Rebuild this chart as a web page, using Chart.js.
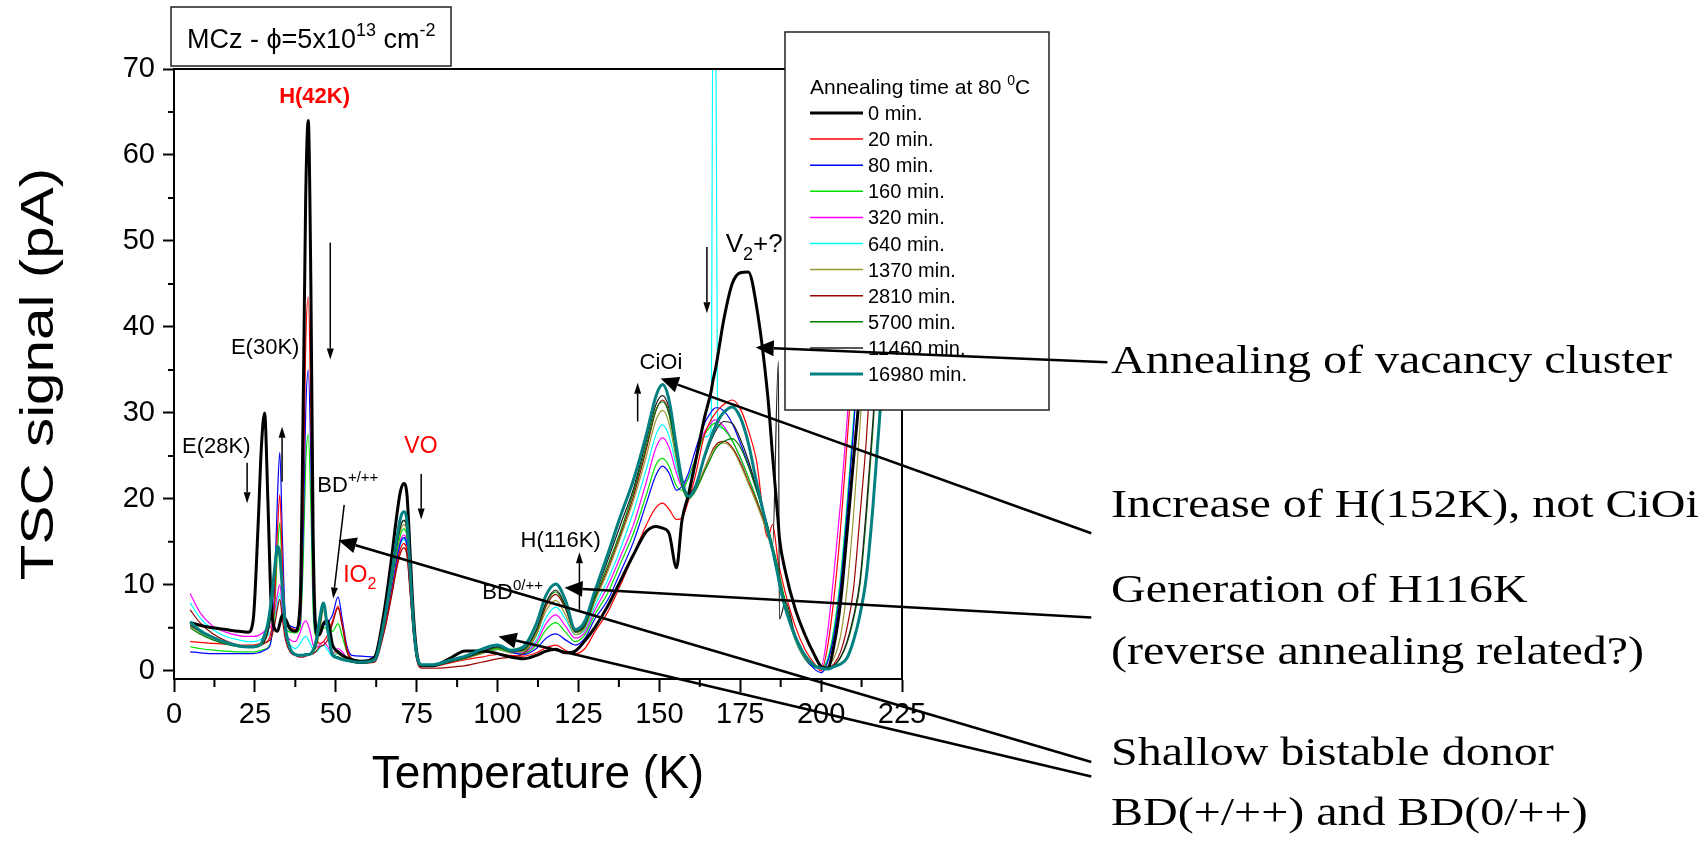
<!DOCTYPE html>
<html>
<head>
<meta charset="utf-8">
<title>TSC spectra - MCz annealing at 80 °C</title>
<script src="https://cdn.jsdelivr.net/npm/chart.js"></script>
<style>
  html, body { margin: 0; padding: 0; background: #fff; overflow: hidden; }
  canvas { display: block; }
</style>
</head>
<body>
<canvas id="tsc" width="1707" height="843"></canvas>
<script>
// temperature grid (K), shared by every spectrum
const temps = [
  5, 8, 12, 16, 20, 23, 24.5, 26, 27, 28,
  29, 30, 31, 32, 32.7, 33.5, 34.5, 36, 37.5, 39,
  40, 40.7, 41.5, 42.3, 43, 44, 45, 46.2, 47.5, 49,
  50.7, 52, 53.5, 55, 58, 62, 65, 67, 69, 70,
  71, 72, 73, 74, 75, 76.5, 80, 85, 90, 95,
  100, 104, 108, 112, 115, 118, 121, 124, 127, 130,
  134, 138, 142, 146, 149, 151, 153, 155.3, 157, 159,
  161, 164, 166, 166.6, 167.4, 168, 170, 172.5, 175, 177.5,
  180, 183.5, 185, 186.8, 187.1, 189, 192, 195, 198, 200,
  202, 204, 206, 208, 210, 212, 214, 216, 218, 220, 224
];

// TSC signal (pA) after each annealing step
const tsc0 = [
  5.6, 5.3, 5.0, 4.8, 4.6, 4.5, 6.0, 17, 26, 30,
  20, 8, 5.0, 4.6, 5.5, 6.5, 6.0, 4.8, 4.6, 8,
  33, 55, 64, 45, 16, 4.5, 4.2, 5.5, 5.8, 3.0,
  2.2, 1.8, 1.5, 1.3, 1.1, 1.6, 7.0, 12.4, 18.5, 20.9,
  21.8, 20.5, 13.5, 6.5, 2.2, 0.6, 0.6, 1.4, 2.3, 2.3,
  2.0, 1.6, 1.4, 1.8, 2.3, 2.5, 2.1, 2.3, 3.5, 5.0,
  7.5, 10.5, 13.5, 16.2, 16.8, 16.6, 16.0, 12.0, 17.5, 20.5,
  24, 29.5, 32.5, 33.8, 35.2, 36.5, 41, 45, 46.3, 46.4,
  42.5, 32, 25, 17, 15.5, 11.5, 7.2, 4.2, 1.8, 0.5,
  0.3, 3, 8, 16, 24.5, 33, 45, 58, 72, 84, 95
];
const tsc20 = [
  3.4, 3.3, 3.2, 3.1, 3.0, 3.0, 3.0, 3.1, 3.2, 3.3,
  3.5, 4.5, 7.5, 16.5, 20.5, 12.5, 5.5, 5.0, 4.8, 6,
  21, 38, 43.5, 30, 11, 4.0, 3.2, 3.4, 4.2, 5.8,
  7.5, 5.5, 2.5, 1.4, 1.1, 1.3, 4.7, 8.4, 12.6, 14.2,
  14.8, 13.9, 9.2, 4.4, 1.5, 0.5, 0.5, 0.9, 1.3, 1.6,
  1.9, 1.8, 1.7, 2.1, 2.7, 3.0, 2.4, 2.0, 2.6, 4.5,
  6.8, 10.0, 13.5, 17.0, 19.0, 19.5, 18.8, 17.6, 17.8, 19.8,
  22.5, 27.5, 29.2, 29.6, 30, 30.3, 31, 31.5, 30.5, 28,
  24.5, 15.5, 17.0, 12.5, 12, 9, 5.2, 2.5, 0.8, 0.0,
  2.8, 8.6, 16.5, 26.5, 37, 50, 65, 78, 86, 92, 95
];
const tsc80 = [
  2.2, 2.1, 2.0, 2.0, 2.0, 2.0, 2.0, 2.1, 2.2, 2.4,
  2.6, 3.5, 9, 20.5, 25.4, 15.5, 6, 5.2, 5.0, 5.5,
  17, 30, 35, 24.5, 9, 4.2, 4.8, 5.3, 5.6, 6.5,
  8.6, 6.0, 2.8, 1.8, 1.7, 1.6, 5.0, 8.8, 13.2, 14.9,
  15.5, 14.6, 9.6, 4.7, 1.6, 0.6, 0.6, 1.0, 1.5, 2.2,
  2.8, 2.2, 1.9, 2.6, 3.8, 4.3, 3.6, 3.0, 3.8, 6.0,
  8.2, 11.5, 15.0, 19.5, 22.8, 23.8, 23.0, 21.0, 21.5, 23,
  25.5, 28.8, 30.1, 30.4, 30.6, 30.6, 30.2, 28.8, 26.5, 24,
  21.2, 16.5, 14.2, 11, 10.6, 7.5, 3.8, 1.5, 0.2, -0.2,
  1.0, 4.2, 9.8, 18.2, 28, 39, 52, 66, 78, 88, 95
];
const tsc160 = [
  2.8, 2.6, 2.4, 2.3, 2.2, 2.2, 2.2, 2.3, 2.4, 2.5,
  2.7, 3.5, 6.5, 14, 17.2, 10.5, 5, 4.5, 4.4, 5,
  13.5, 24, 27.5, 19, 7, 4.0, 4.4, 5.0, 5.0, 4.6,
  5.5, 4.0, 2.2, 1.4, 1.2, 1.3, 5.3, 9.4, 14.0, 15.8,
  16.5, 15.5, 10.2, 5.0, 1.7, 0.6, 0.6, 1.0, 1.5, 2.0,
  2.5, 2.1, 2.0, 3.0, 4.8, 5.6, 4.5, 3.4, 4.2, 6.5,
  9, 12.5, 16, 20.5, 24, 24.7, 23.8, 21.5, 21, 22.5,
  24.5, 27.5, 28.5, 28.7, 28.8, 28.7, 28.1, 26.8, 24.8, 22.5,
  20, 16, 13.8, 10.8, 10.3, 7.3, 3.6, 1.4, 0.4, 0.3,
  1.2, 4.8, 10.5, 19, 28.5, 40, 53, 67, 79, 88, 95
];
const tsc320 = [
  9.0, 6.8, 5.2, 4.5, 4.1, 4.0, 4.0, 4.1, 4.3, 4.6,
  4.8, 5.2, 6.5, 9, 10, 7.5, 4.5, 3.6, 3.4, 4.5,
  5.5, 5.8, 5.3, 4.2, 3.0, 2.7, 3.0, 3.4, 2.8, 2.0,
  2.6, 2.2, 1.5, 1.2, 1.1, 1.3, 5.1, 9.0, 13.4, 15.2,
  15.8, 14.9, 9.8, 4.7, 1.6, 0.6, 0.6, 1.0, 1.5, 2.0,
  2.5, 2.1, 2.1, 3.3, 5.5, 6.5, 5.2, 3.8, 4.5, 7.0,
  9.8, 13.3, 17, 22, 26, 27.1, 26, 23, 21.5, 22.5,
  24.5, 27.8, 28.8, 29.1, 29.2, 29.1, 28.4, 26.8, 24.8, 22.5,
  20, 16, 13.8, 10.8, 10.3, 7.3, 3.6, 1.4, 0.5, 0.5,
  4.5, 11.5, 19.5, 29, 40, 53, 68, 80, 88, 92, 95
];
const tsc640 = [
  7.9, 6.2, 4.8, 4.0, 3.6, 3.4, 3.4, 3.5, 3.7, 4.0,
  4.2, 4.6, 6, 8, 9, 6.8, 4, 3.0, 2.6, 3.2,
  3.8, 4.0, 3.6, 3.0, 2.4, 2.2, 2.6, 3.0, 2.4, 1.7,
  2.0, 1.8, 1.3, 1.1, 1.0, 1.2, 4.9, 8.7, 13.0, 14.7,
  15.3, 14.4, 9.5, 4.6, 1.5, 0.6, 0.6, 1.0, 1.5, 2.1,
  2.6, 2.2, 2.2, 3.6, 6.2, 7.4, 6.0, 4.2, 4.8, 7.5,
  10.5, 14.2, 18.5, 23.5, 27.5, 28.6, 27.3, 23.8, 21.8, 22.3,
  24.2, 27.2, 28, 80, 80, 28.5, 28.2, 26.8, 24.8, 22.5,
  20, 16, 13.8, 10.8, 10.3, 7.3, 3.6, 1.4, 0.4, 0.4,
  1.4, 5, 11, 19.5, 29, 40, 53, 67, 79, 88, 95
];
const tsc1370 = [
  5.2, 4.5, 3.8, 3.3, 3.0, 2.8, 2.8, 2.9, 3.1, 3.5,
  4.5, 6.5, 10.5, 13.5, 13.2, 9.2, 4.6, 2.4, 2.0, 1.8,
  1.8, 1.9, 2.0, 2.0, 2.2, 2.8, 4.5, 7.0, 4.5, 2.2,
  2.0, 1.6, 1.3, 1.1, 1.0, 1.3, 5.4, 9.7, 14.5, 16.3,
  17, 16, 10.5, 5.1, 1.7, 0.6, 0.6, 1.0, 1.4, 2.0,
  2.6, 2.2, 2.3, 4.2, 7.0, 8.2, 6.5, 4.2, 5.0, 8.0,
  11.5, 15.5, 19.8, 25, 29.2, 30.3, 28.8, 24.5, 21.5, 20.3,
  21, 23.5, 25.2, 25.6, 26, 26.3, 26.5, 25.8, 24, 21.8,
  19.5, 15.8, 13.8, 11, 10.5, 7.5, 3.8, 1.5, 0.5, 0.3,
  0.5, 1.5, 4, 9.5, 18, 28.5, 40, 53, 66, 78, 92
];
const tsc2810 = [
  7.1, 5.6, 4.3, 3.5, 3.0, 2.8, 2.8, 2.9, 3.0, 3.2,
  3.4, 3.8, 5.2, 7.3, 8.3, 6, 3.5, 2.1, 1.8, 1.6,
  1.6, 1.7, 1.8, 1.9, 2.0, 2.3, 2.8, 3.0, 3.6, 5.5,
  7.3, 5.2, 2.2, 1.2, 0.9, 1.0, 4.6, 8.2, 12.2, 13.7,
  14.3, 13.4, 8.9, 4.3, 1.3, 0.3, 0.3, 0.4, 0.6, 1.0,
  1.4, 1.6, 2.0, 4.2, 7.5, 8.9, 7.2, 4.5, 5.2, 8.2,
  11.8, 15.8, 20.3, 25.8, 30.3, 31.5, 30.0, 25.5, 22, 20.3,
  21, 23.5, 25.3, 25.8, 26.2, 26.5, 26.7, 26, 24.3, 22,
  19.8, 16, 14, 11.2, 10.7, 7.7, 4.0, 1.6, 0.5, 0.3,
  0.4, 0.8, 2.2, 5, 9.5, 18, 27, 39, 52, 65, 88
];
const tsc5700 = [
  5.0, 4.3, 3.6, 3.1, 2.8, 2.7, 2.7, 2.8, 3.0, 3.4,
  4.5, 6.8, 11, 14.5, 14.2, 9.8, 4.8, 2.5, 2.0, 1.8,
  1.8, 1.8, 1.9, 2.0, 2.2, 3.0, 5.0, 7.4, 4.6, 2.0,
  1.6, 1.4, 1.2, 1.0, 0.9, 1.2, 5.6, 10, 14.9, 16.8,
  17.5, 16.5, 10.9, 5.3, 1.8, 0.6, 0.6, 1.0, 1.5, 2.1,
  2.7, 2.3, 2.4, 4.6, 7.8, 9.2, 7.4, 4.5, 5.2, 8.4,
  12.2, 16.2, 20.8, 26.2, 30.4, 31.3, 29.8, 25, 21.5, 20,
  20.8, 23.2, 24.8, 25.3, 25.8, 26.1, 26.7, 27, 26, 23.8,
  21, 16.8, 14.6, 11.8, 11.2, 8, 4.2, 1.8, 0.6, 0.3,
  0.3, 0.6, 1.5, 3.2, 6, 10, 18, 28, 40, 53, 80
];
const tsc11460 = [
  5.3, 4.6, 3.9, 3.3, 2.9, 2.8, 2.8, 2.9, 3.1, 3.5,
  4.5, 6.6, 10.5, 13.8, 13.6, 9.5, 4.6, 2.4, 1.9, 1.8,
  1.8, 1.8, 1.9, 2.0, 2.3, 3.2, 5.2, 7.5, 4.8, 2.0,
  1.6, 1.4, 1.2, 1.0, 0.9, 1.2, 5.6, 10, 14.9, 16.8,
  17.5, 16.5, 10.9, 5.3, 1.8, 0.6, 0.6, 1.0, 1.5, 2.2,
  2.8, 2.3, 2.5, 4.8, 8.0, 9.4, 7.6, 4.6, 5.4, 8.7,
  12.8, 17, 21.2, 26.8, 31.0, 32, 30.5, 25.5, 22, 20.5,
  21.5, 24.8, 26.8, 27.3, 27.9, 28.3, 29, 28.8, 27, 24.5,
  21.3, 16.8, 14.5, 36, 6, 8, 4.1, 1.7, 0.5, 0.3,
  0.3, 0.6, 1.6, 3.4, 6.3, 10.5, 19, 29, 41, 54, 82
];
const tsc16980 = [
  5.7, 4.7, 3.9, 3.3, 2.9, 2.8, 2.8, 2.9, 3.2, 4.2,
  5.5, 8, 11.5, 14.5, 13.5, 9.5, 5, 2.5, 1.9, 1.8,
  1.8, 1.9, 1.9, 2.0, 2.4, 3.6, 6.0, 7.9, 4.8, 1.8,
  1.5, 1.3, 1.2, 1.1, 1.0, 1.3, 5.9, 10.5, 15.7, 17.8,
  18.5, 17.4, 11.5, 5.5, 1.9, 0.7, 0.7, 1.2, 1.7, 2.5,
  3.0, 2.4, 2.8, 5.5, 8.8, 10.1, 8.2, 4.8, 5.8, 9.2,
  13.5, 18.0, 22.2, 27.5, 32.0, 33.3, 31.5, 26.0, 22.2, 20.3,
  21.2, 25, 27.2, 27.8, 28.5, 29, 30.1, 30.7, 29.5, 26.5,
  22, 16.3, 14.1, 10.8, 10.2, 7.2, 4.0, 1.8, 0.6, 0.3,
  0.2, 0.5, 0.8, 1.5, 3.5, 6.5, 11, 19, 29, 40, 70
];

const annealTimes = ['0 min.', '20 min.', '80 min.', '160 min.', '320 min.', '640 min.',
  '1370 min.', '2810 min.', '5700 min.', '11460 min.', '16980 min.'];
const xTicks = [0, 25, 50, 75, 100, 125, 150, 175, 200, 225];
const yTicks = [0, 10, 20, 30, 40, 50, 60, 70];

const SANS = '"Liberation Sans", Arial, Helvetica, sans-serif';
const SERIF = '"Liberation Serif", "Times New Roman", serif';
Chart.defaults.font.family = SANS;
Chart.defaults.color = '#000';

const spectra = [tsc0, tsc20, tsc80, tsc160, tsc320, tsc640, tsc1370, tsc2810, tsc5700, tsc11460, tsc16980];
const lineStyles = [
  { color: '#000000', width: 3, order: 1 },
  { color: '#ff0000', width: 1.2, order: 5 },
  { color: '#0000ff', width: 1.2, order: 5 },
  { color: '#00e000', width: 1.2, order: 5 },
  { color: '#ff00ff', width: 1.2, order: 5 },
  { color: '#00ffff', width: 1.2, order: 5 },
  { color: '#999933', width: 1.2, order: 4 },
  { color: '#990000', width: 1.2, order: 4 },
  { color: '#008000', width: 1.2, order: 3 },
  { color: '#202020', width: 1.2, order: 2 },
  { color: '#008080', width: 3, order: 0 }
];

const datasets = spectra.map((vals, i) => ({
  label: annealTimes[i],
  data: vals.map((v, k) => ({ x: temps[k], y: v })),
  borderColor: lineStyles[i].color,
  borderWidth: lineStyles[i].width,
  order: lineStyles[i].order,
  pointRadius: 0,
  fill: false,
  cubicInterpolationMode: 'monotone',
  clip: 0
}));

// callout arrows pointing at features, [tailT, tailV, tipT, tipV] in axis units
const calloutArrows = [
  [288.5, 35.9, 179.8, 37.6],
  [283.5, 16.0, 150.4, 34.0],
  [283.5, 6.2, 120.7, 9.65],
  [283.5, -10.6, 50.8, 15.2],
  [283.5, -12.3, 100.3, 4.0]
];
// short arrows showing the trend of each peak
const trendArrows = [
  [22.6, 24.2, 22.6, 19.5],
  [33.4, 22.0, 33.4, 28.4],
  [48.3, 49.8, 48.3, 36.2],
  [52.6, 19.3, 49.2, 8.4],
  [76.4, 22.9, 76.4, 17.6],
  [164.7, 49.3, 164.7, 41.6],
  [143.3, 29.0, 143.3, 33.5],
  [125.3, 7.1, 125.3, 13.8]
];
const peakLabels = [
  { at: [32.5, 66.0], runs: [{ t: 'H(42K)' }], color: '#ff0000', size: 22, bold: true },
  { at: [17.6, 36.9], runs: [{ t: 'E(30K)' }] },
  { at: [2.5, 25.3], runs: [{ t: 'E(28K)' }] },
  { at: [44.3, 20.8], runs: [{ t: 'BD' }, { t: '+/++', sup: true }] },
  { at: [71.2, 25.3], runs: [{ t: 'VO' }], color: '#ff0000', size: 23 },
  { at: [52.3, 10.3], runs: [{ t: 'IO' }, { t: '2', sub: true }], color: '#ff0000', size: 23 },
  { at: [143.9, 35.1], runs: [{ t: 'CiOi' }] },
  { at: [170.5, 48.7], runs: [{ t: 'V' }, { t: '2', sub: true }, { t: '+?' }], size: 26 },
  { at: [107.1, 14.4], runs: [{ t: 'H(116K)' }] },
  { at: [95.3, 8.3], runs: [{ t: 'BD' }, { t: '0/++', sup: true }] }
];
const notes = [
  { y: 373, text: 'Annealing of vacancy cluster' },
  { y: 517, text: 'Increase of H(152K), not CiOi' },
  { y: 602, text: 'Generation of H116K' },
  { y: 664, text: '(reverse annealing related?)' },
  { y: 765, text: 'Shallow bistable donor' },
  { y: 825, text: 'BD(+/++) and BD(0/++)' }
];

// text with super/subscript pieces, left aligned on a baseline
function drawRuns(ctx, x, y, runs, size, weight) {
  ctx.textAlign = 'left';
  ctx.textBaseline = 'alphabetic';
  for (const r of runs) {
    const small = r.sup || r.sub;
    const s = small ? Math.round(size * 0.68) : size;
    const dy = r.sup ? -size * 0.45 : r.sub ? size * 0.3 : 0;
    ctx.font = (weight || 'normal') + ' ' + s + 'px ' + SANS;
    ctx.fillText(r.t, x, y + dy);
    x += ctx.measureText(r.t).width;
  }
}

function drawArrow(ctx, x1, y1, x2, y2, lw, headLen, headHalf) {
  const a = Math.atan2(y2 - y1, x2 - x1);
  const bx = x2 - Math.cos(a) * headLen, by = y2 - Math.sin(a) * headLen;
  ctx.lineWidth = lw;
  ctx.beginPath();
  ctx.moveTo(x1, y1);
  ctx.lineTo(bx, by);
  ctx.stroke();
  ctx.beginPath();
  ctx.moveTo(x2, y2);
  ctx.lineTo(bx + Math.sin(a) * headHalf, by - Math.cos(a) * headHalf);
  ctx.lineTo(bx - Math.sin(a) * headHalf, by + Math.cos(a) * headHalf);
  ctx.closePath();
  ctx.fill();
}

const decor = {
  id: 'decor',
  afterDraw(chart) {
    const ctx = chart.ctx;
    const area = chart.chartArea;
    const sx = chart.scales.x, sy = chart.scales.y;
    const px = t => sx.getPixelForValue(t);
    const py = v => sy.getPixelForValue(v);
    ctx.save();
    ctx.strokeStyle = '#000';
    ctx.fillStyle = '#000';
    ctx.lineCap = 'butt';

    // minor ticks half way between the labelled ones
    ctx.lineWidth = 2;
    ctx.beginPath();
    for (let i = 0; i < yTicks.length - 1; i++) {
      const y = py((yTicks[i] + yTicks[i + 1]) / 2);
      ctx.moveTo(area.left - 6, y);
      ctx.lineTo(area.left, y);
    }
    for (let i = 0; i < xTicks.length - 1; i++) {
      const x = px((xTicks[i] + xTicks[i + 1]) / 2);
      ctx.moveTo(x, area.bottom);
      ctx.lineTo(x, area.bottom + 8);
    }
    // top and right frame
    ctx.moveTo(area.left, area.top);
    ctx.lineTo(area.right, area.top);
    ctx.lineTo(area.right, area.bottom);
    ctx.stroke();

    // y axis title, drawn stretched along its length
    ctx.save();
    ctx.translate(53, (area.top + area.bottom) / 2);
    ctx.rotate(-Math.PI / 2);
    ctx.scale(1.27, 1);
    ctx.font = '46px ' + SANS;
    ctx.textAlign = 'center';
    ctx.textBaseline = 'alphabetic';
    ctx.fillText('TSC signal (pA)', 0, 0);
    ctx.restore();

    // legend box
    const lg = { x: 785, y: 32, w: 264, h: 378 };
    ctx.fillStyle = '#fff';
    ctx.fillRect(lg.x, lg.y, lg.w, lg.h);
    ctx.lineWidth = 1.5;
    ctx.strokeStyle = '#222';
    ctx.strokeRect(lg.x, lg.y, lg.w, lg.h);
    ctx.fillStyle = '#000';
    drawRuns(ctx, 810, 94, [{ t: 'Annealing time at 80 ' }, { t: '0', sup: true }, { t: 'C' }], 21);
    chart.data.datasets.forEach((ds, i) => {
      const y = 113 + i * 26.1;
      ctx.strokeStyle = ds.borderColor;
      ctx.lineWidth = Math.max(ds.borderWidth, 1.5);
      ctx.beginPath();
      ctx.moveTo(810, y);
      ctx.lineTo(863, y);
      ctx.stroke();
      drawRuns(ctx, 868, y + 7, [{ t: ds.label }], 20);
    });

    // sample box
    ctx.strokeStyle = '#222';
    ctx.lineWidth = 1.5;
    ctx.strokeRect(171, 7, 280, 59);
    drawRuns(ctx, 187, 48, [{ t: 'MCz - \u03d5=5x10' }, { t: '13', sup: true }, { t: ' cm' }, { t: '-2', sup: true }], 27);

    // peak labels
    for (const lb of peakLabels) {
      ctx.fillStyle = lb.color || '#000';
      drawRuns(ctx, px(lb.at[0]), py(lb.at[1]), lb.runs, lb.size || 22, lb.bold ? 'bold' : 'normal');
    }

    // arrows
    ctx.strokeStyle = '#000';
    ctx.fillStyle = '#000';
    for (const a of trendArrows) {
      drawArrow(ctx, px(a[0]), py(a[1]), px(a[2]), py(a[3]), 1.5, 11, 3.5);
    }
    for (const a of calloutArrows) {
      drawArrow(ctx, px(a[0]), py(a[1]), px(a[2]), py(a[3]), 2.5, 18, 8);
    }

    // notes on the right
    for (const n of notes) {
      ctx.save();
      ctx.translate(1111, n.y);
      ctx.scale(1.2, 1);
      ctx.font = '40px ' + SERIF;
      ctx.textAlign = 'left';
      ctx.textBaseline = 'alphabetic';
      ctx.fillText(n.text, 0, 0);
      ctx.restore();
    }
    ctx.restore();
  }
};

new Chart(document.getElementById('tsc'), {
  type: 'line',
  data: { datasets: datasets },
  options: {
    responsive: false,
    animation: false,
    devicePixelRatio: 1,
    layout: { padding: { top: 69, right: 805, bottom: 0, left: 0 } },
    plugins: { legend: { display: false }, tooltip: { enabled: false } },
    scales: {
      x: {
        type: 'linear',
        min: 0,
        max: 225,
        afterBuildTicks: s => { s.ticks = xTicks.map(v => ({ value: v })); },
        afterFit: s => { s.height = 164; },
        ticks: { font: { size: 29 }, padding: 6, maxRotation: 0, autoSkip: false },
        grid: { drawOnChartArea: false, tickLength: 13, tickWidth: 2, tickColor: '#000' },
        border: { color: '#000', width: 2 },
        title: {
          display: true,
          text: 'Temperature (K)',
          font: { size: 46, lineHeight: 1 },
          padding: { top: 0, bottom: 45 }
        }
      },
      y: {
        type: 'linear',
        min: -0.95,
        max: 70,
        afterBuildTicks: s => { s.ticks = yTicks.map(v => ({ value: v })); },
        afterFit: s => { s.width = 174; },
        ticks: { font: { size: 29 }, padding: 8 },
        grid: { drawOnChartArea: false, tickLength: 11, tickWidth: 2, tickColor: '#000' },
        border: { color: '#000', width: 2 }
      }
    }
  },
  plugins: [decor]
});
</script>
</body>
</html>
